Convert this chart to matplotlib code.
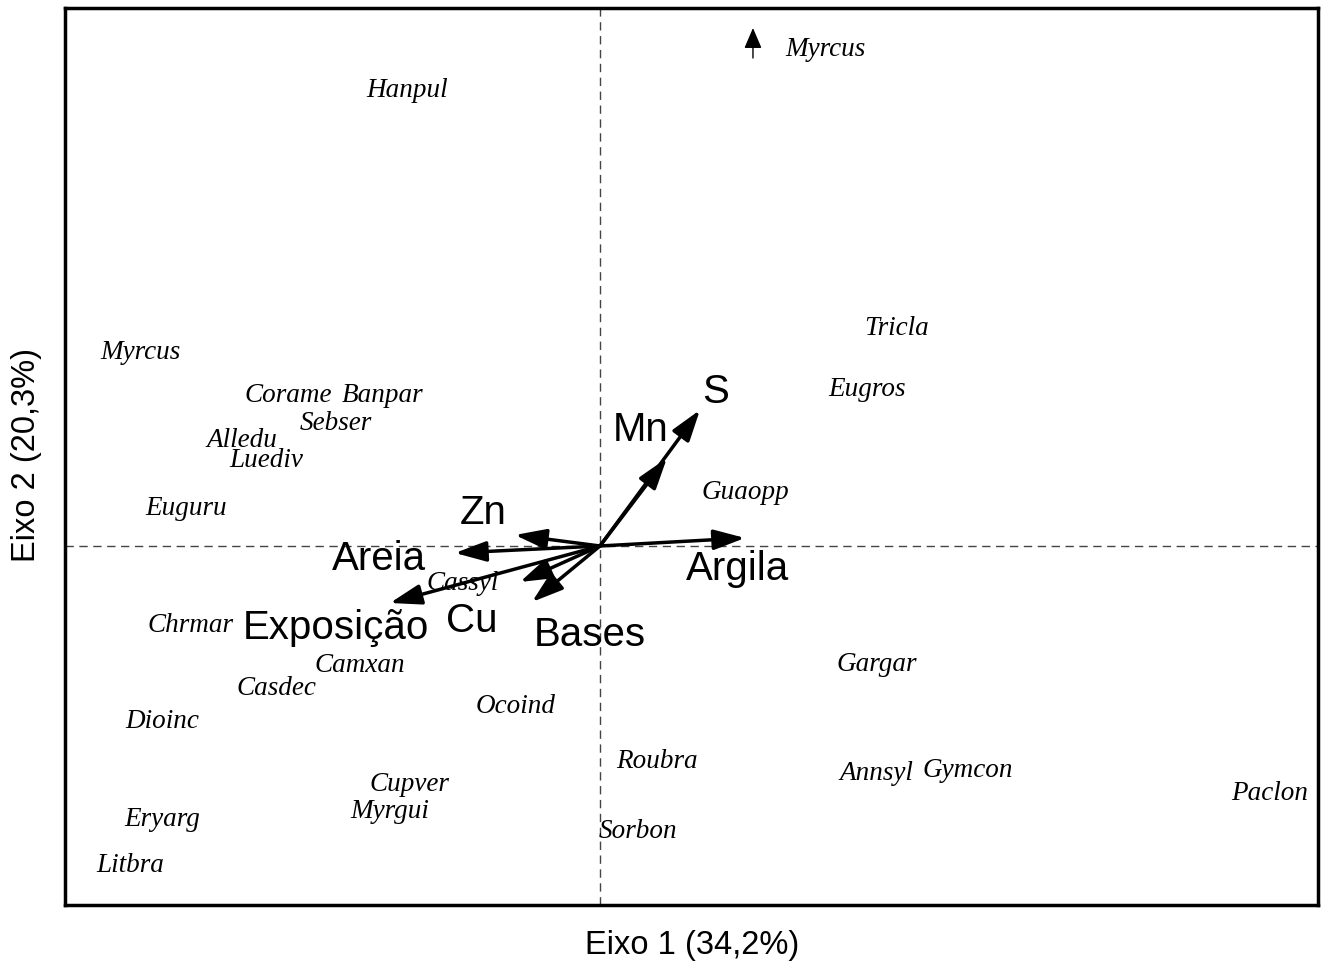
import matplotlib.pyplot as plt

# especies (escores no plano 1-2)
especies = ["Hanpul", "Tricla", "Myrcus", "Eugros", "Corame", "Banpar", "Sebser",
            "Alledu", "Luediv", "Guaopp", "Euguru", "Cassyl", "Chrmar", "Camxan",
            "Gargar", "Casdec", "Ocoind", "Dioinc", "Roubra", "Annsyl", "Gymcon",
            "Cupver", "Paclon", "Myrgui", "Eryarg", "Sorbon", "Litbra"]
esp_x = [-1.93, 2.97, -4.60, 2.67, -3.12, -2.17, -2.64, -3.58, -3.34, 1.45, -4.14,
         -1.37, -4.09, -2.40, 2.77, -3.24, -0.84, -4.38, 0.57, 2.76, 3.68, -1.91,
         6.70, -2.10, -4.38, 0.38, -4.70]
esp_y = [4.56, 2.17, 1.93, 1.56, 1.50, 1.50, 1.22, 1.05, 0.85, 0.53, 0.37, -0.38,
         -0.80, -1.20, -1.19, -1.43, -1.61, -1.76, -2.16, -2.28, -2.25, -2.39,
         -2.48, -2.66, -2.74, -2.86, -3.20]

# especie fora do grafico (indicada com seta)
fora_nome = "Myrcus"
fora_x = 1.53
fora_y = 5.18

# variaveis ambientais
variaveis = ["S", "Mn", "Zn", "Areia", "Argila", "Exposição", "Cu", "Bases"]
var_x = [1.00, 0.67, -0.85, -1.45, 1.45, -2.10, -0.80, -0.68]
var_y = [1.36, 0.88, 0.11, -0.07, 0.08, -0.57, -0.36, -0.56]
rot_x = [1.16, 0.41, -1.17, -2.21, 1.38, -2.64, -1.28, -0.10]
rot_y = [1.54, 1.16, 0.33, -0.13, -0.23, -0.82, -0.75, -0.89]

fig = plt.figure(figsize=(13.23, 9.65), dpi=100)
ax = fig.add_axes([0.0491, 0.0622, 0.9471, 0.9295])
ax.set_xlim(-5.35, 7.18)
ax.set_ylim(-3.59, 5.38)

ax.axhline(0, color="#444444", lw=1, ls=(0, (6, 4)), zorder=1)
ax.axvline(0, color="#444444", lw=1, ls=(0, (6, 4)), zorder=1)

for nome, x, y in zip(especies, esp_x, esp_y):
    ax.text(x, y, nome, ha="center", va="center", fontsize=19.5,
            family="Liberation Serif", style="italic", zorder=3)

# Myrcus fora da escala
ax.annotate("", xy=(fora_x, fora_y), xytext=(fora_x, fora_y - 0.30),
            arrowprops=dict(arrowstyle="-|>,head_length=0.7,head_width=0.3",
                            color="black", lw=1.0, mutation_scale=18,
                            shrinkA=0, shrinkB=0))
ax.text(fora_x + 0.72, fora_y - 0.21, fora_nome, ha="center", va="center",
        fontsize=19.5, family="Liberation Serif", style="italic")

for nome, x, y, lx, ly in zip(variaveis, var_x, var_y, rot_x, rot_y):
    ax.annotate("", xy=(x, y), xytext=(0, 0),
                arrowprops=dict(arrowstyle="-|>,head_length=0.68,head_width=0.22",
                                color="black", lw=2.5, mutation_scale=28,
                                shrinkA=0, shrinkB=0),
                zorder=4)
    ax.text(lx, ly, nome, ha="center", va="center", fontsize=29,
            family="Liberation Sans", zorder=5)

ax.set_xticks([])
ax.set_yticks([])
for s in ax.spines.values():
    s.set_linewidth(2.5)

fig.text(0.523, 0.020, "Eixo 1 (34,2%)", ha="center", va="center",
         fontsize=23.5, family="Liberation Sans")
fig.text(0.020, 0.528, "Eixo 2 (20,3%)", ha="center", va="center",
         rotation=90, fontsize=23.5, family="Liberation Sans")

fig.savefig("out.png", dpi=100)
